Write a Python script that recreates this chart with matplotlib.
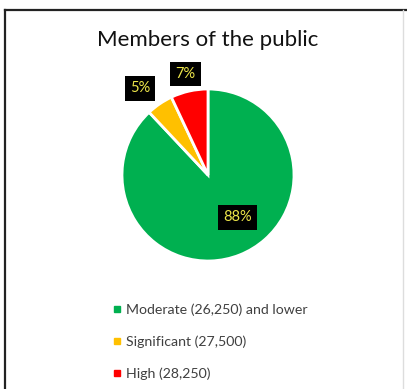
import numpy as np
import matplotlib
matplotlib.use("Agg")
import matplotlib.pyplot as plt
from matplotlib.lines import Line2D

plt.rcParams['font.family'] = ['Lato', 'DejaVu Sans']

# ---- data ----
categories = ["Moderate (26,250) and lower", "Significant (27,500)", "High (28,250)"]
shares = [88, 5, 7]
colors = ["#00B050", "#FFC000", "#FF0000"]
title = "Members of the public"

W, H = 407, 389
fig = plt.figure(figsize=(W / 100, H / 100), dpi=100)
fig.patch.set_facecolor("white")

# frame lines (top, left, faint right)
fig.add_artist(Line2D([5 / W, 1], [1 - 10 / H, 1 - 10 / H], color="#222222", lw=1.6))
fig.add_artist(Line2D([5 / W, 5 / W], [0, 1 - 10 / H], color="#222222", lw=1.6))
fig.add_artist(Line2D([403 / W, 403 / W], [0, 1 - 10 / H], color="#dddddd", lw=1.0))

# ---- pie ----
cx, cy, r = 208, 389 - 175, 86
ax = fig.add_axes([(cx - r) / W, (cy - r) / H, 2 * r / W, 2 * r / H])
wedges, _ = ax.pie(shares, colors=colors, startangle=90, counterclock=False,
                   wedgeprops=dict(edgecolor="white", linewidth=2))
ax.set_xlim(-1, 1)
ax.set_ylim(-1, 1)
ax.set_aspect("equal")
ax.axis("off")

# data labels: black boxes with yellow text
label_r = [0.6, 1.28, 1.2]
label_shift = [13, 4, 0]
for w, s, lr, sh in zip(wedges, shares, label_r, label_shift):
    ang = np.deg2rad((w.theta1 + w.theta2) / 2 + sh)
    ax.text(lr * np.cos(ang), lr * np.sin(ang), f"{s}%", ha="center", va="center",
            fontsize=10.5, color="#EDE64A", clip_on=False,
            bbox=dict(boxstyle="square,pad=0.35", fc="black", ec="none"))

fig.text(cx / W, 1 - 40 / H, title, ha="center", va="center", fontsize=16, color="#111111")

# ---- legend ----
handles = [Line2D([], [], marker="s", linestyle="none", markersize=5,
                  markerfacecolor=c, markeredgecolor=c) for c in colors]
fig.legend(handles, categories, loc="upper left", bbox_to_anchor=(106 / W, 1 - 296 / H),
           frameon=False, fontsize=10.2, labelcolor="#404040", handlelength=0.6,
           handletextpad=0.3, labelspacing=1.38, borderpad=0)

fig.savefig("out.png", dpi=100, facecolor="white")
